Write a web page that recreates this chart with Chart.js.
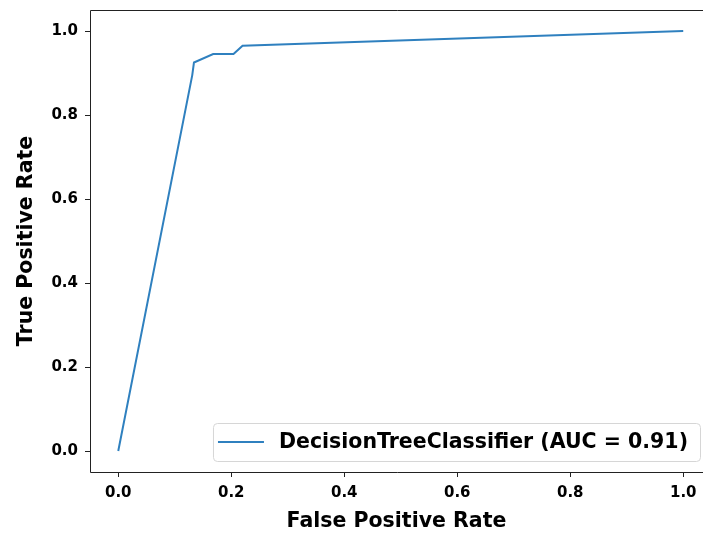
<!DOCTYPE html>
<html>
<head>
<meta charset="utf-8">
<script src="https://cdn.jsdelivr.net/npm/chart.js@4.4.1/dist/chart.umd.min.js"></script>
<style>
    html, body { margin: 0; padding: 0; background: #fff; overflow: hidden; }
    #wrap { width: 703px; height: 534px; }
</style>
</head>
<body>
<div id="wrap"><canvas id="roc" width="703" height="534"></canvas></div>
<script>
// ROC curve points
const fprValues = [0, 0.131, 0.134, 0.168, 0.204, 0.22, 1];
const tprValues = [0, 0.895, 0.925, 0.945, 0.945, 0.965, 1];
const tickValues = [0, 0.2, 0.4, 0.6, 0.8, 1.0];
const seriesLabel = 'DecisionTreeClassifier (AUC = 0.91)';

const FONT = "'DejaVu Sans', sans-serif";

// spines: the right one falls outside the cropped picture
const frame = {
    id: 'frame',
    afterDatasetsDraw(chart) {
        const a = chart.chartArea;
        const c = chart.ctx;
        const l = Math.round(a.left) + 0.5, t = Math.round(a.top) + 0.5, b = Math.round(a.bottom) + 0.5;
        c.save();
        c.strokeStyle = '#222';
        c.lineWidth = 1;
        c.beginPath();
        c.moveTo(a.right + 2, t);
        c.lineTo(l, t);
        c.lineTo(l, b);
        c.lineTo(a.right + 2, b);
        c.stroke();
        c.restore();
    }
};

// legend drawn in the lower right corner, like matplotlib
const innerLegend = {
    id: 'innerLegend',
    afterDraw(chart) {
        const a = chart.chartArea;
        const c = chart.ctx;
        const ds = chart.data.datasets[0];
        c.save();
        c.font = 'bold 20.5px ' + FONT;
        const tw = c.measureText(ds.label).width;
        const w = tw + 78, h = 38;
        const x = a.right - 3 - w, y = a.bottom - 11 - h;
        c.beginPath();
        c.roundRect(x + 0.5, y + 0.5, w, h, 4);
        c.fillStyle = 'rgba(255,255,255,0.8)';
        c.fill();
        c.strokeStyle = '#d6d6d6';
        c.lineWidth = 1;
        c.stroke();
        c.beginPath();
        c.moveTo(x + 5, y + h / 2);
        c.lineTo(x + 51, y + h / 2);
        c.strokeStyle = ds.borderColor;
        c.lineWidth = 2;
        c.stroke();
        c.fillStyle = '#000';
        c.textBaseline = 'middle';
        c.fillText(ds.label, x + 66, y + h / 2 + 1);
        c.restore();
    }
};

const points = fprValues.map((x, i) => ({ x: x, y: tprValues[i] }));

new Chart(document.getElementById('roc'), {
    type: 'scatter',
    data: {
        datasets: [{
            label: seriesLabel,
            data: points,
            showLine: true,
            borderColor: '#2f80bf',
            borderWidth: 2,
            pointRadius: 0,
            tension: 0
        }]
    },
    options: {
        responsive: false,
        animation: false,
        layout: { padding: { top: 10, right: 0, left: 0, bottom: 0 } },
        plugins: {
            legend: { display: false },
            tooltip: { enabled: false }
        },
        scales: {
            x: {
                type: 'linear',
                min: -0.05,
                max: 1.035,
                afterBuildTicks: s => { s.ticks = tickValues.map(v => ({ value: v })); },
                afterFit: s => { s.height = 62; s.paddingRight = 0; },
                grid: { drawOnChartArea: false, tickLength: 5, tickColor: '#222' },
                border: { display: false },
                ticks: {
                    color: '#000',
                    padding: 7,
                    maxRotation: 0,
                    font: { family: FONT, size: 15, weight: 'bold' },
                    callback: v => v.toFixed(1)
                },
                title: {
                    display: true,
                    text: 'False Positive Rate',
                    color: '#000',
                    padding: { top: 0, bottom: 0 },
                    font: { family: FONT, size: 20.5, weight: 'bold' }
                }
            },
            y: {
                type: 'linear',
                min: -0.05,
                max: 1.05,
                afterBuildTicks: s => { s.ticks = tickValues.map(v => ({ value: v })); },
                afterFit: s => { s.width = 90; s.paddingTop = 0; },
                grid: { drawOnChartArea: false, tickLength: 5, tickColor: '#222' },
                border: { display: false },
                ticks: {
                    color: '#000',
                    padding: 7,
                    font: { family: FONT, size: 15, weight: 'bold' },
                    callback: v => v.toFixed(1)
                },
                title: {
                    display: true,
                    text: 'True Positive Rate',
                    color: '#000',
                    padding: { top: 14, bottom: 0 },
                    font: { family: FONT, size: 20.5, weight: 'bold' }
                }
            }
        }
    },
    plugins: [frame, innerLegend]
});
</script>
</body>
</html>
